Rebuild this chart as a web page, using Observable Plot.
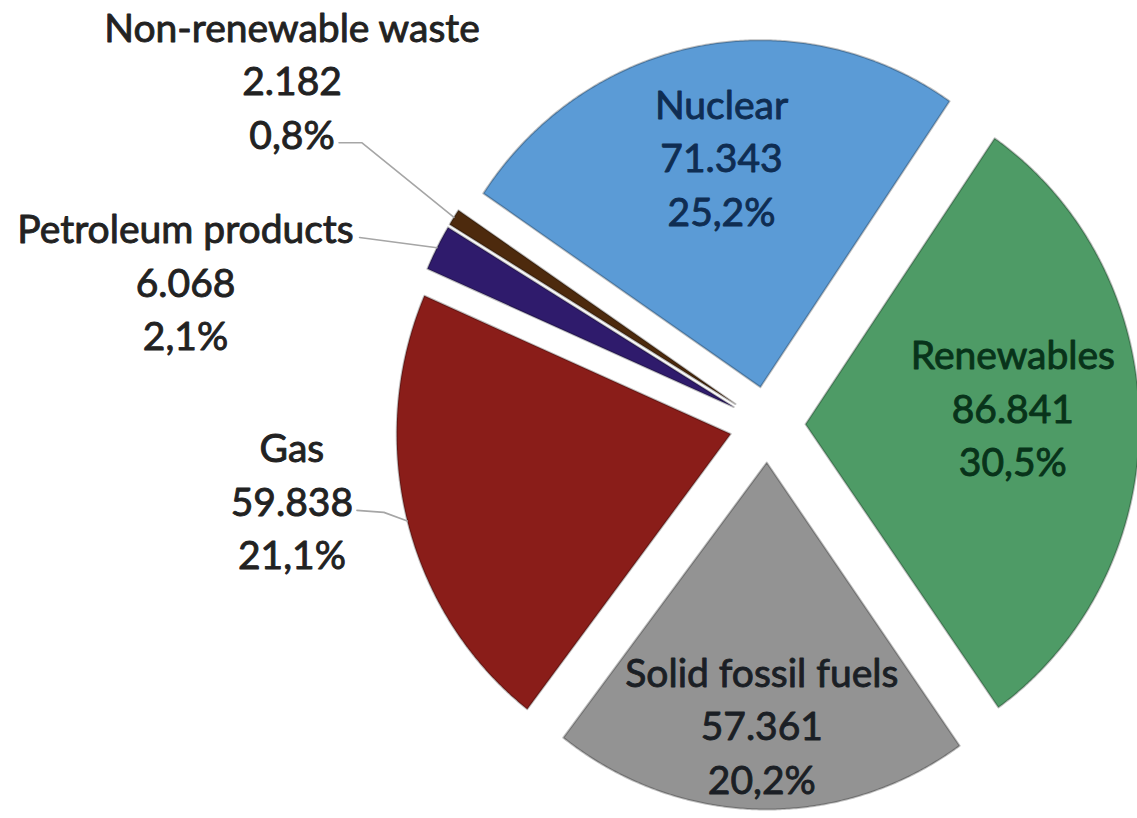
<!DOCTYPE html>
<html>
<head>
<meta charset="utf-8">
<script src="https://cdn.jsdelivr.net/npm/d3@7"></script>
<script src="https://cdn.jsdelivr.net/npm/@observablehq/plot@0.6"></script>
<style>
  html, body { margin: 0; padding: 0; background: #ffffff; }
  #chart svg { display: block; }
</style>
</head>
<body>
<div id="chart"></div>
<script>
// ---------- data ----------
const categories = ["Renewables", "Solid fossil fuels", "Gas", "Petroleum products", "Non-renewable waste", "Nuclear"];
const values = [86.841, 57.361, 59.838, 6.068, 2.182, 71.343];
const valueLabels = ["86.841", "57.361", "59.838", "6.068", "2.182", "71.343"];
const percentLabels = ["30,5%", "20,2%", "21,1%", "2,1%", "0,8%", "25,2%"];
const sliceColors = ["#4e9b66", "#939393", "#8a1d19", "#2f1b6c", "#4d2a0d", "#5b9bd6"];
const textColors = ["#08331a", "#1b1f25", "#222222", "#222222", "#222222", "#0f2d52"];

// ---------- layout ----------
const W = 1137, H = 818;
const cx = 767, cy = 424, rx = 334, ry = 347, explode = 38;
const startDeg = 34.5;
// label placement: radial factor k from slice tip along (mid angle + da degrees)
const labelK  = [0.623, 0.751, 1.327, 1.682, 1.626, 0.679];
const labelDa = [-4.5, 0, 6.4, -14.7, 2.7, 0.9];
// leader offsets relative to the label anchor (null = no leader)
const leaderOffsets = [null, null, [[65, 11.5], [92, 13.5]], [[174, -42]], [[47, 64.5], [70, 64.5]], null];

const rows = categories.map((name, i) => ({name, value: values[i], i}));
const rad = Math.PI / 180;
const arcs = d3.pie().sort(null).value(d => d.value)
  .startAngle(startDeg * rad).endAngle(startDeg * rad + 2 * Math.PI)(rows);

const slicePts = [];
const labels = [];
const leaders = [];
arcs.forEach(a => {
  const d = a.data;
  const mid = (a.startAngle + a.endAngle) / 2;
  const tx = cx + explode * Math.sin(mid), ty = cy - explode * Math.cos(mid);
  slicePts.push({name: d.name, x: tx, y: ty});
  const n = Math.max(2, Math.ceil((a.endAngle - a.startAngle) / (0.4 * rad)));
  for (let k = 0; k <= n; k++) {
    const ang = a.startAngle + (a.endAngle - a.startAngle) * k / n;
    slicePts.push({name: d.name, x: tx + rx * Math.sin(ang), y: ty - ry * Math.cos(ang)});
  }
  const la = mid + labelDa[d.i] * rad, lk = labelK[d.i];
  const lx = tx + lk * rx * Math.sin(la), ly = ty - lk * ry * Math.cos(la);
  labels.push({name: d.name, x: lx, y: ly,
    text: d.name + "\n" + valueLabels[d.i] + "\n" + percentLabels[d.i], color: textColors[d.i]});
  const lo = leaderOffsets[d.i];
  if (lo) {
    lo.forEach(o => leaders.push({name: d.name, x: lx + o[0], y: ly + o[1]}));
    leaders.push({name: d.name, x: tx + rx * Math.sin(mid), y: ty - ry * Math.cos(mid)});
  }
});

const textMarks = labels.map(l => Plot.text([l], {
  x: "x", y: "y", text: "text", fill: l.color, stroke: l.color, strokeWidth: 0.9,
  fontSize: 39, fontFamily: "Lato, 'Open Sans', sans-serif",
  lineHeight: 1.372, textAnchor: "middle", lineAnchor: "middle"
}));

const chart = Plot.plot({
  width: W, height: H, margin: 0,
  style: {background: "#ffffff"},
  x: {domain: [0, W], range: [0, W], axis: null},
  y: {domain: [0, H], range: [0, H], axis: null},
  color: {domain: categories, range: sliceColors},
  marks: [
    Plot.line(slicePts, {x: "x", y: "y", z: "name", fill: "name", stroke: "#000000",
      strokeOpacity: 0.25, strokeWidth: 2, strokeLinejoin: "round", curve: "linear-closed"}),
    Plot.line(leaders, {x: "x", y: "y", z: "name", stroke: "#a6a6a6", strokeWidth: 1.6}),
    ...textMarks
  ]
});
document.getElementById("chart").appendChild(chart);
</script>
</body>
</html>
